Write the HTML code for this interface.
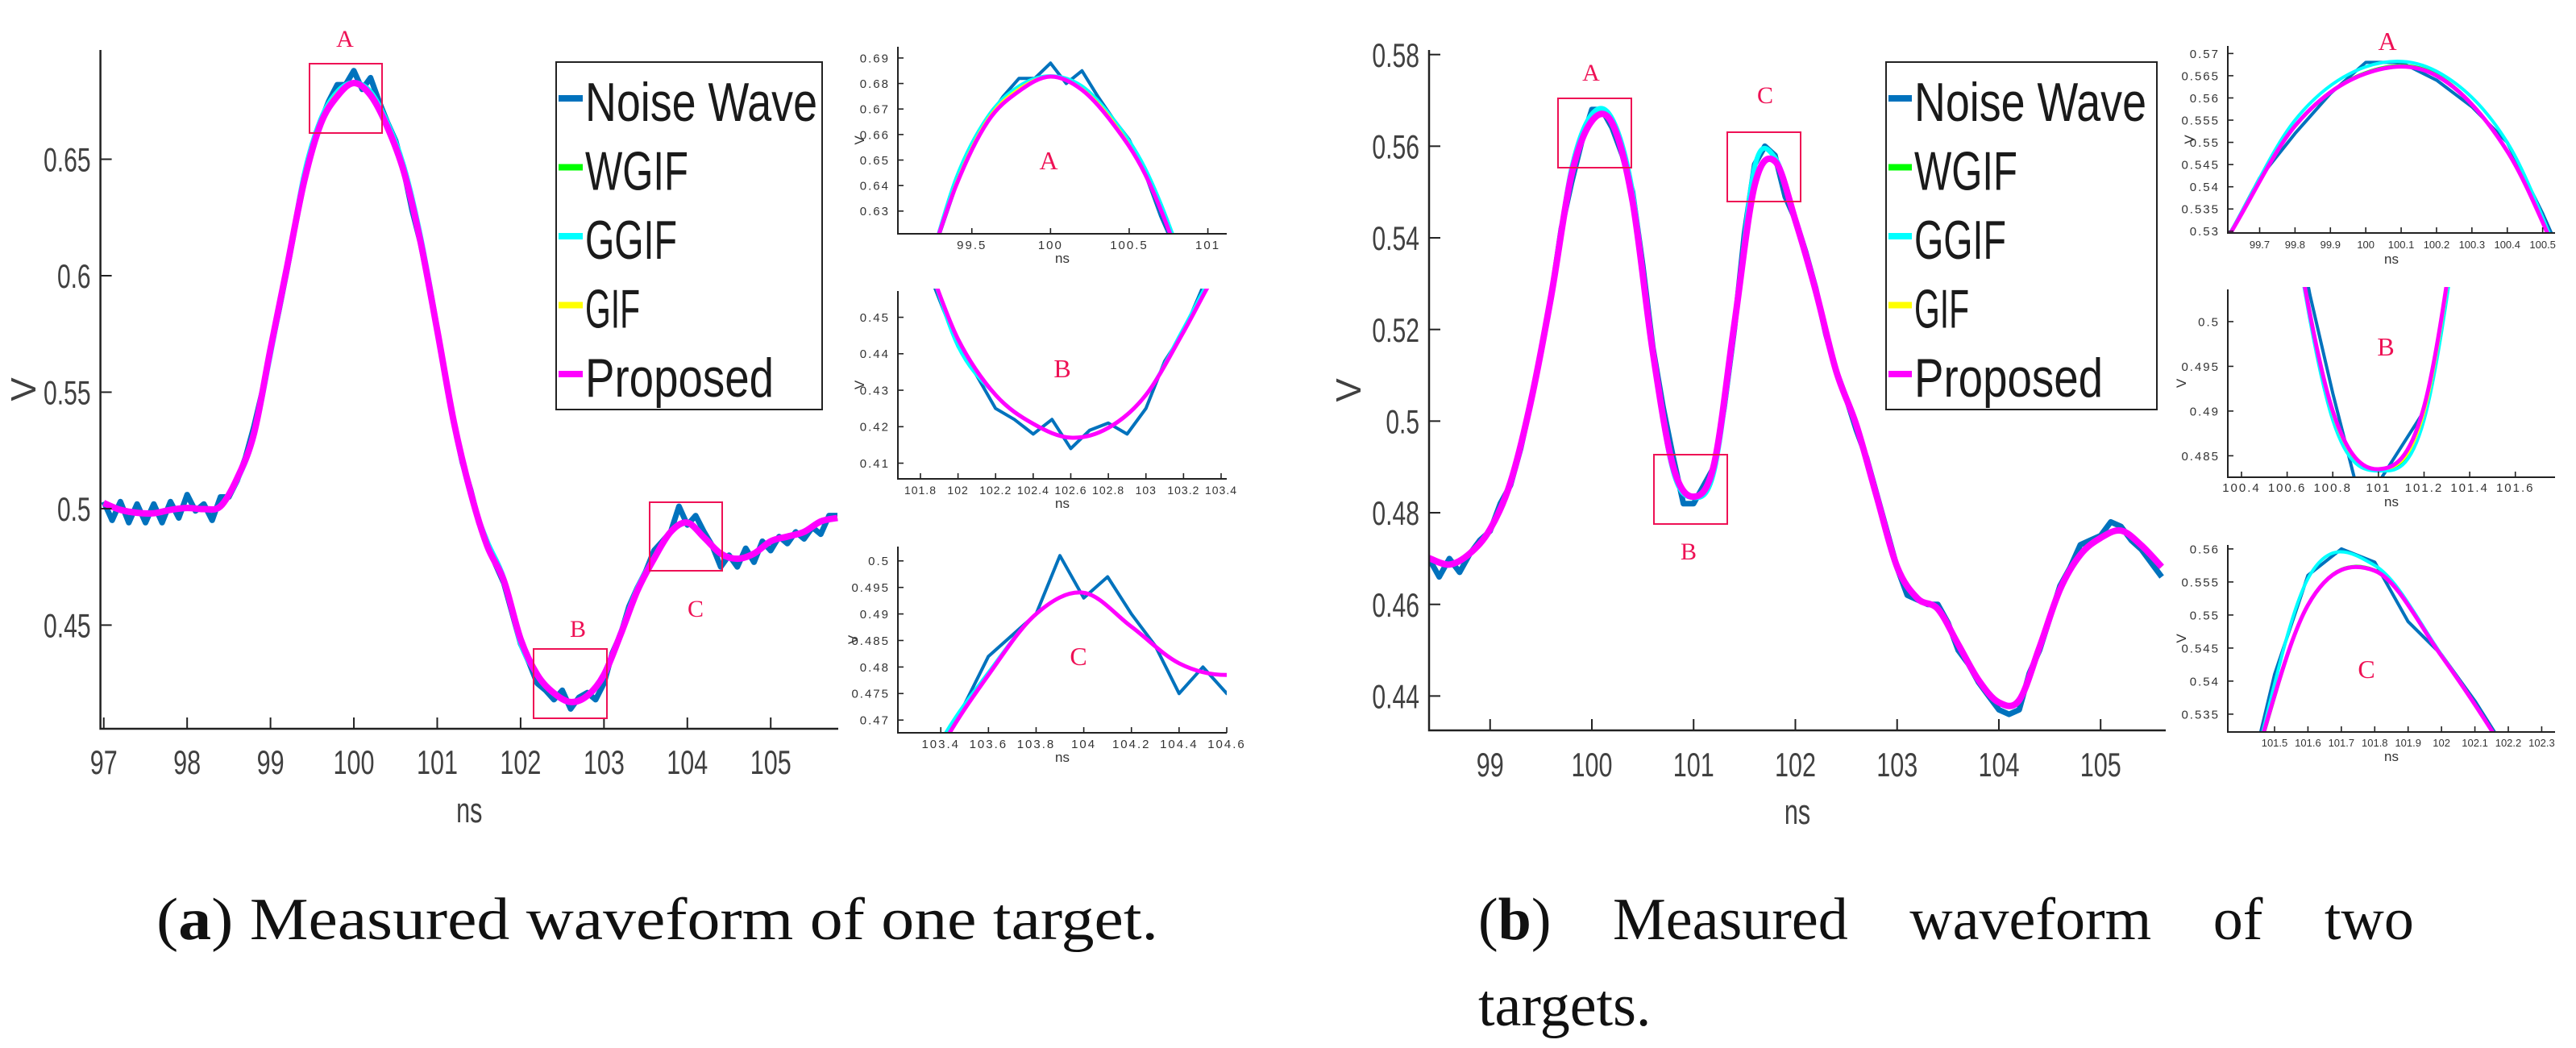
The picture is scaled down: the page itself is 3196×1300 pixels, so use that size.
<!DOCTYPE html>
<html><head><meta charset="utf-8"><style>
html,body{margin:0;padding:0;background:#fff;width:3196px;height:1300px;overflow:hidden;}
svg{display:block;}
</style></head><body>
<svg id="fig" xmlns="http://www.w3.org/2000/svg" width="3196" height="1300" viewBox="0 0 3196 1300">
<rect width="3196" height="1300" fill="#fff"/>
<defs id="defs"></defs>
<g id="root"></g>
<text x="194" y="1165" font-family="Liberation Serif, serif" font-size="74" fill="#111" textLength="1243" lengthAdjust="spacingAndGlyphs">(<tspan font-weight="bold">a</tspan>) Measured waveform of one target.</text>
<text x="1834" y="1165" font-family="Liberation Serif, serif" font-size="74" fill="#111" word-spacing="58">(<tspan font-weight="bold">b</tspan>) Measured waveform of two</text>
<text x="1834" y="1272" font-family="Liberation Serif, serif" font-size="74" fill="#111">targets.</text>
</svg>
<script>
// ---------- data: panel (a) ----------
const aPropStart = 97.0, aPropStep = 0.2;
const aProposed = [.5024,.4995,.4982,.498,.4995,.5003,.4998,.501,.513,.532,.5685,.604,.640,.665,.677,.6827,.6775,.664,.6446,.6145,.5765,.537,.507,.484,.469,.444,.4287,.4208,.417,.4197,.4287,.446,.4647,.4785,.490,.494,.4876,.4807,.4785,.4807,.486,.488,.490,.4945,.496];
const aWGIF = [.5024,.4995,.4982,.498,.4995,.5003,.4998,.501,.513,.532,.568,.604,.641,.666,.678,.6828,.678,.664,.645,.615,.5765,.537,.507,.484,.469,.444,.4287,.4208,.417,.4197,.4287,.446,.4647,.4785,.490,.494,.4876,.4807,.4785,.4807,.486,.488,.490,.4945,.496];
const aGGIF = [.5024,.4995,.4982,.498,.4995,.5003,.4998,.501,.512,.531,.566,.603,.643,.667,.679,.683,.679,.666,.647,.617,.578,.536,.506,.486,.470,.442,.4287,.4208,.417,.4197,.4287,.447,.466,.479,.490,.494,.4876,.4807,.4785,.4807,.486,.488,.490,.4945,.496];
const aGIF = [.5024,.4995,.4982,.498,.4995,.5003,.4998,.501,.513,.532,.568,.604,.641,.666,.678,.6828,.678,.665,.645,.615,.5765,.537,.507,.484,.469,.444,.4287,.4208,.417,.4197,.4287,.446,.4647,.4785,.490,.494,.4876,.4807,.4785,.4807,.486,.488,.490,.4945,.496];
const aNoiseStart = 97.0, aNoiseStep = 0.1;
const aNoise = [.503,.495,.503,.494,.502,.494,.502,.494,.503,.496,.506,.499,.502,.495,.505,.505,.512,.522,.535,.55,.568,.585,.603,.622,.640,.656,.666,.675,.682,.682,.688,.680,.685,.675,.666,.658,.645,.628,.614,.596,.577,.556,.537,.52,.508,.494,.485,.476,.468,.455,.442,.434,.425,.422,.418,.422,.414,.419,.421,.418,.425,.438,.446,.458,.466,.473,.482,.486,.490,.501,.493,.497,.490,.484,.475,.480,.475,.483,.477,.486,.482,.488,.485,.490,.487,.492,.489,.497,.497];
// ---------- data: panel (b) ----------
const bPropStart = 98.4, bPropStep = 0.2;
const bProposed = [.4701,.4687,.4711,.4764,.4866,.5042,.5273,.5537,.5655,.565,.548,.515,.490,.4835,.4905,.521,.5515,.5567,.5438,.5285,.511,.4991,.4835,.4682,.4613,.459,.4513,.4435,.4386,.4391,.4507,.4632,.4708,.4745,.4761,.4729,.4682];
const bWGIF = [.4701,.4687,.4711,.4764,.4866,.5042,.5273,.5537,.5657,.5652,.548,.515,.4895,.4834,.4895,.5205,.5515,.5568,.5438,.5285,.511,.4991,.4835,.4682,.4613,.459,.4513,.4435,.4386,.4391,.4507,.4632,.4708,.4745,.4761,.4729,.4682];
const bGGIF = [.4701,.4687,.4711,.4764,.4866,.5045,.5275,.555,.567,.566,.550,.515,.489,.4833,.489,.520,.5555,.5575,.5440,.5285,.511,.4991,.4835,.4682,.4613,.459,.4513,.4435,.4386,.4391,.4507,.4632,.4708,.4745,.4761,.4729,.4682];
const bGIF = [.4701,.4687,.4711,.4764,.4866,.5042,.5273,.5537,.5656,.5651,.548,.515,.4897,.4835,.4898,.5205,.5515,.5567,.5438,.5285,.511,.4991,.4835,.4682,.4613,.459,.4513,.4435,.4386,.4391,.4507,.4632,.4708,.4745,.4761,.4729,.4682];
const bNoiseStart = 98.4, bNoiseStep = 0.1;
const bNoise = [.470,.466,.470,.467,.471,.474,.476,.482,.486,.494,.504,.515,.527,.542,.552,.561,.568,.568,.564,.558,.550,.534,.516,.503,.492,.482,.482,.486,.490,.503,.520,.541,.556,.560,.558,.549,.544,.537,.529,.519,.511,.505,.498,.492,.484,.476,.468,.462,.461,.460,.460,.456,.450,.447,.443,.440,.437,.436,.437,.445,.450,.457,.464,.468,.473,.474,.475,.478,.477,.474,.472,.469,.466];
// ---------- ticks ----------
const aMainXTicks = [97,98,99,100,101,102,103,104,105];
const aMainYTicks = [0.45,0.5,0.55,0.6,0.65];
const aMainYLabels = ["0.45","0.5","0.55","0.6","0.65"];
const bMainXTicks = [99,100,101,102,103,104,105];
const bMainYTicks = [0.44,0.46,0.48,0.5,0.52,0.54,0.56,0.58];
const bMainYLabels = ["0.44","0.46","0.48","0.5","0.52","0.54","0.56","0.58"];
const insAaX = [99.5,100,100.5,101], insAaXL = ["99.5","100","100.5","101"];
const insAaY = [0.63,0.64,0.65,0.66,0.67,0.68,0.69], insAaYL = ["0.63","0.64","0.65","0.66","0.67","0.68","0.69"];
const insBaX = [101.8,102,102.2,102.4,102.6,102.8,103,103.2,103.4], insBaXL = ["101.8","102","102.2","102.4","102.6","102.8","103","103.2","103.4"];
const insBaY = [0.41,0.42,0.43,0.44,0.45], insBaYL = ["0.41","0.42","0.43","0.44","0.45"];
const insCaX = [103.4,103.6,103.8,104,104.2,104.4,104.6], insCaXL = ["103.4","103.6","103.8","104","104.2","104.4","104.6"];
const insCaY = [0.47,0.475,0.48,0.485,0.49,0.495,0.5], insCaYL = ["0.47","0.475","0.48","0.485","0.49","0.495","0.5"];
const insAbX = [99.7,99.8,99.9,100,100.1,100.2,100.3,100.4,100.5], insAbXL = ["99.7","99.8","99.9","100","100.1","100.2","100.3","100.4","100.5"];
const insAbY = [0.53,0.535,0.54,0.545,0.55,0.555,0.56,0.565,0.57], insAbYL = ["0.53","0.535","0.54","0.545","0.55","0.555","0.56","0.565","0.57"];
const insBbX = [100.4,100.6,100.8,101,101.2,101.4,101.6], insBbXL = ["100.4","100.6","100.8","101","101.2","101.4","101.6"];
const insBbY = [0.485,0.49,0.495,0.5], insBbYL = ["0.485","0.49","0.495","0.5"];
const insCbX = [101.5,101.6,101.7,101.8,101.9,102,102.1,102.2,102.3], insCbXL = ["101.5","101.6","101.7","101.8","101.9","102","102.1","102.2","102.3"];
const insCbY = [0.535,0.54,0.545,0.55,0.555,0.56], insCbYL = ["0.535","0.54","0.545","0.55","0.555","0.56"];
const legendLabels = ["Noise Wave","WGIF","GGIF","GIF","Proposed"];
const legendColors = ["#0072BD","#00ff00","#00ffff","#ffff00","#ff00ff"];
const legendWidths = [288,128,114,68,234];

const NS="http://www.w3.org/2000/svg";
const root=document.getElementById('root');
const defs=document.getElementById('defs');
function mk(tag,attrs,parent){const e=document.createElementNS(NS,tag);for(const k in attrs)e.setAttribute(k,attrs[k]);(parent||root).appendChild(e);return e;}
let clipId=0;
function smoothPath(p){let d='M'+p[0][0].toFixed(1)+','+p[0][1].toFixed(1);for(let i=0;i<p.length-1;i++){const p0=p[i-1]||p[i],p1=p[i],p2=p[i+1],p3=p[i+2]||p2;d+=' C'+(p1[0]+(p2[0]-p0[0])/6).toFixed(1)+','+(p1[1]+(p2[1]-p0[1])/6).toFixed(1)+' '+(p2[0]-(p3[0]-p1[0])/6).toFixed(1)+','+(p2[1]-(p3[1]-p1[1])/6).toFixed(1)+' '+p2[0].toFixed(1)+','+p2[1].toFixed(1);}return d;}
function polyPath(p){return 'M'+p.map(q=>q[0].toFixed(1)+','+q[1].toFixed(1)).join(' L');}

function axes(cfg){
  const g=mk('g',{});
  
  
  const sx=v=>cfg.L+(v-cfg.x0)/(cfg.x1-cfg.x0)*(cfg.R-cfg.L);
  const sy=v=>cfg.B-(v-cfg.y0)/(cfg.y1-cfg.y0)*(cfg.B-cfg.T);
  const id='clip'+(clipId++);
  const cp=mk('clipPath',{id:id},defs);mk('rect',{x:cfg.L,y:cfg.T-3,width:cfg.R-cfg.L,height:cfg.B-cfg.T+3},cp);
  const sg=mk('g',{'clip-path':'url(#'+id+')'},g);
  cfg.series.forEach(s=>{
    const pts=s.vals.map((v,i)=>[sx(s.start+i*s.step),sy(v)]);
    const path=mk('path',{d:s.smooth?smoothPath(pts):polyPath(pts),fill:'none',stroke:s.color,'stroke-width':s.w,'stroke-linejoin':'round'},sg);
    
    
  });
  const ff='Liberation Sans, sans-serif';
  const ax=mk('path',{d:`M${cfg.L},${cfg.T} L${cfg.L},${cfg.B} L${cfg.R},${cfg.B}`,fill:'none',stroke:cfg.axColor,'stroke-width':cfg.axW},g);
  
  
  cfg.xt.forEach((v,i)=>{
    const x=sx(v);
    mk('line',{x1:x,y1:cfg.B,x2:x,y2:cfg.B-cfg.tick,stroke:cfg.axColor,'stroke-width':cfg.axW*0.8},g);
    const t=mk('text',{x:x,y:cfg.xlBase,'text-anchor':'middle','font-family':ff,'font-size':cfg.xfs||cfg.fs,fill:cfg.lc,'letter-spacing':cfg.xls!==undefined?cfg.xls:cfg.ls},g);
    t.textContent=cfg.xl[i];
    if(cfg.cw){t.setAttribute('textLength',cfg.cw*(cfg.xl[i].replace('.','').length)+cfg.cw*0.45*(cfg.xl[i].includes('.')?1:0));t.setAttribute('lengthAdjust','spacingAndGlyphs');}
    
    
  });
  cfg.yt.forEach((v,i)=>{
    const y=sy(v);
    mk('line',{x1:cfg.L,y1:y,x2:cfg.L+cfg.tick,y2:y,stroke:cfg.axColor,'stroke-width':cfg.axW*0.8},g);
    const t=mk('text',{x:cfg.L-cfg.ygap,y:y+cfg.fs*0.36,'text-anchor':'end','font-family':ff,'font-size':cfg.fs,fill:cfg.lc,'letter-spacing':cfg.ls},g);
    t.textContent=cfg.yl[i];
    if(cfg.cw){t.setAttribute('textLength',cfg.cw*(cfg.yl[i].replace('.','').length)+cfg.cw*0.45*(cfg.yl[i].includes('.')?1:0));t.setAttribute('lengthAdjust','spacingAndGlyphs');}
    
    
  });
  const xt=mk('text',{x:(cfg.L+cfg.R)/2,y:cfg.nsBase,'text-anchor':'middle','font-family':ff,'font-size':cfg.tfs,fill:cfg.lc},g);
  xt.textContent='ns';
  if(cfg.cw){xt.setAttribute('textLength',cfg.cw*1.9);xt.setAttribute('lengthAdjust','spacingAndGlyphs');}
  
  
  const yt=mk('text',{x:0,y:0,'text-anchor':'middle','font-family':ff,'font-size':cfg.tfs,fill:cfg.lc,transform:`translate(${cfg.vx},${(cfg.T+cfg.B)/2}) rotate(-90)`},g);
  yt.textContent='V';
  
  
  return {sx,sy};
}
function seriesSet(ns,ps,noise,wgif,ggif,gif,prop,wN,wC,wP){
  return [
    {key:'noise-wave',vals:noise,start:ns[0],step:ns[1],color:'#0072BD',w:wN,smooth:false},
    {key:'wgif',vals:wgif,start:ps[0],step:ps[1],color:'#00ff00',w:wC,smooth:true},
    {key:'ggif',vals:ggif,start:ps[0],step:ps[1],color:'#00ffff',w:wC,smooth:true},
    {key:'gif',vals:gif,start:ps[0],step:ps[1],color:'#ffff00',w:wC*0.8,smooth:true},
    {key:'proposed',vals:prop,start:ps[0],step:ps[1],color:'#ff00ff',w:wP,smooth:true}];
}
const SA=(w1,w2,w3)=>seriesSet([aNoiseStart,aNoiseStep],[aPropStart,aPropStep],aNoise,aWGIF,aGGIF,aGIF,aProposed,w1,w2,w3);
const SB=(w1,w2,w3)=>seriesSet([bNoiseStart,bNoiseStep],[bPropStart,bPropStep],bNoise,bWGIF,bGGIF,bGIF,bProposed,w1,w2,w3);

const mainStyle={axColor:'#222',axW:2.5,tick:14,fs:42,tfs:44,lc:'#404040',ls:0,cw:17,ygap:12};
axes(Object.assign({name:'main-plot-a',L:124.6,R:1040,T:62,B:904,x0:96.96,x1:105.81,y0:0.4055,y1:0.6969,xt:aMainXTicks,xl:aMainXTicks.map(String),yt:aMainYTicks,yl:aMainYLabels,xlBase:960,nsBase:1020,vx:44,series:SA(7,6,8)},mainStyle));
axes(Object.assign({name:'main-plot-b',L:1773,R:2687,T:62,B:906,x0:98.40,x1:105.64,y0:0.4325,y1:0.5810,xt:bMainXTicks,xl:bMainXTicks.map(String),yt:bMainYTicks,yl:bMainYLabels,xlBase:963,nsBase:1022,vx:1688,series:SB(7,6,8)},mainStyle));

const insStyle={axColor:'#222',axW:2,tick:7,fs:15,tfs:17,lc:'#333',ls:2,cw:0,ygap:10};
axes(Object.assign({name:'inset-a-region-a',L:1114,R:1522,T:58,B:290,x0:99.03,x1:101.12,y0:0.6211,y1:0.6944,xt:insAaX,xl:insAaXL,yt:insAaY,yl:insAaYL,xlBase:309,nsBase:326,vx:1072,series:SA(4,4,5)},insStyle));
axes(Object.assign({name:'inset-a-region-b',L:1114,R:1522,T:361,B:594,x0:101.68,x1:103.43,y0:0.4057,y1:0.4572,xt:insBaX,xl:insBaXL,yt:insBaY,yl:insBaYL,xlBase:613,nsBase:630,vx:1072,xfs:14,xls:1,series:SA(4,4,5)},insStyle));
axes(Object.assign({name:'inset-a-region-c',L:1114,R:1522,T:678,B:909,x0:103.22,x1:104.6,y0:0.4676,y1:0.5027,xt:insCaX,xl:insCaXL,yt:insCaY,yl:insCaYL,xlBase:928,nsBase:945,vx:1064,series:SA(4,4,5)},insStyle));
axes(Object.assign({name:'inset-b-region-a',L:2764,R:3170,T:57,B:289,x0:99.61,x1:100.535,y0:0.5296,y1:0.5717,xt:insAbX,xl:insAbXL,yt:insAbY,yl:insAbYL,xlBase:308,nsBase:327,vx:2722,xfs:13,xls:0,series:SB(4,4,5)},insStyle));
axes(Object.assign({name:'inset-b-region-b',L:2764,R:3170,T:359,B:592,x0:100.34,x1:101.774,y0:0.4826,y1:0.5036,xt:insBbX,xl:insBbXL,yt:insBbY,yl:insBbYL,xlBase:610,nsBase:628,vx:2712,series:SB(4,4,5)},insStyle));
axes(Object.assign({name:'inset-b-region-c',L:2764,R:3170,T:676,B:908,x0:101.36,x1:102.34,y0:0.5323,y1:0.5606,xt:insCbX,xl:insCbXL,yt:insCbY,yl:insCbYL,xlBase:926,nsBase:944,vx:2712,xfs:13,xls:0,series:SB(4,4,5)},insStyle));

const boxes=[
 ['box-a-region-a',384,79,90,86,'A',428,58],
 ['box-a-region-b',662,805,91,86,'B',717,790],
 ['box-a-region-c',806,623,90,85,'C',863,765],
 ['box-b-region-a',1933,122,91,86,'A',1974,100],
 ['box-b-region-b',2052,564,91,86,'B',2095,694],
 ['box-b-region-c',2143,164,91,86,'C',2190,128]];
boxes.forEach(b=>{
  const r=mk('rect',{x:b[1],y:b[2],width:b[3],height:b[4],fill:'none',stroke:'#ee1155','stroke-width':2});
  
  
  const t=mk('text',{x:b[6],y:b[7],'text-anchor':'middle','font-family':'Liberation Serif, serif','font-size':30,fill:'#ee1155'});
  t.textContent=b[5];
  
  
});
[['inset-a-region-a-label','A',1301,210],['inset-a-region-b-label','B',1318,468],['inset-a-region-c-label','C',1338,825],['inset-b-region-a-label','A',2962,62],['inset-b-region-b-label','B',2960,441],['inset-b-region-c-label','C',2936,841]].forEach(l=>{
  const t=mk('text',{x:l[2],y:l[3],'text-anchor':'middle','font-family':'Liberation Serif, serif','font-size':32,fill:'#ee1155'});
  t.textContent=l[1];
  
  
});

function legend(name,x0,x1,tx){
  const g=mk('g',{});
  
  
  mk('rect',{x:x0,y:77,width:x1-x0,height:431,fill:'#fff',stroke:'#222','stroke-width':2},g);
  legendLabels.forEach((lab,i)=>{
    const base=150+i*85.5;
    const ln=mk('line',{x1:x0+3,y1:base-28,x2:tx-3,y2:base-28,stroke:legendColors[i],'stroke-width':8},g);
    
    
    const t=mk('text',{x:tx,y:base,'font-family':'Liberation Sans, sans-serif','font-size':68,fill:'#1a1a1a',textLength:legendWidths[i],lengthAdjust:'spacingAndGlyphs'},g);
    t.textContent=lab;
    
    
  });
}
legend('legend-a',690,1020,726);
legend('legend-b',2340,2676,2375);
</script>
</body></html>
